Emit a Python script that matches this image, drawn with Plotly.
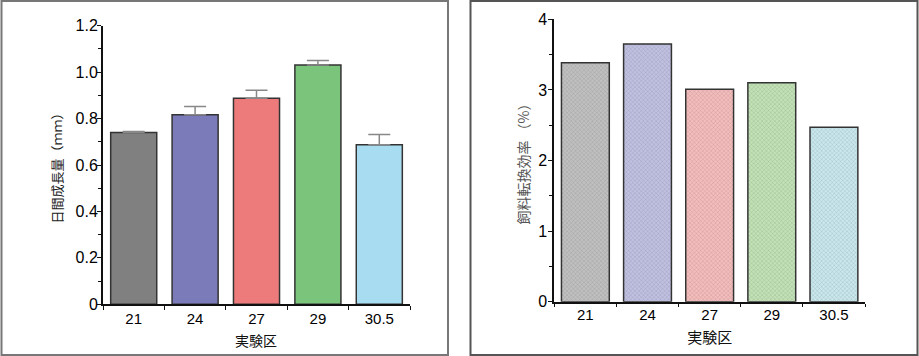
import plotly.graph_objects as go

categories = ["21", "24", "27", "29", "30.5"]
growth = [0.740, 0.816, 0.888, 1.031, 0.687]
growth_err = [0.004, 0.036, 0.034, 0.019, 0.044]
fcr = [3.385, 3.65, 3.01, 3.10, 2.47]

left_colors = ["#808080", "#7b7bba", "#ee7b7b", "#7bc47b", "#a8dcf0"]
right_colors = ["#c0c0c0", "#c0c0e2", "#f5bcbc", "#c2e2b6", "#c8e8ee"]
right_fg = ["#b0b0b0", "#b0b0d6", "#eaaaaa", "#b2d6a6", "#b6dce2"]

W, H = 919, 356
px = lambda x: x / W
py = lambda y: 1 - y / H

fig = go.Figure()
fig.add_trace(go.Bar(
    x=categories, y=growth, xaxis="x", yaxis="y", width=0.75,
    marker=dict(color=left_colors, line=dict(color="#333333", width=1.5)),
    error_y=dict(type="data", array=growth_err, arrayminus=[0]*5, symmetric=False,
                 color="#888888", thickness=1.5, width=11),
    showlegend=False))
fig.add_trace(go.Bar(
    x=categories, y=fcr, xaxis="x2", yaxis="y2", width=0.77,
    marker=dict(color=right_colors, line=dict(color="#333333", width=1.5),
                pattern=dict(shape="x", size=3, solidity=0.15, fgcolor=right_fg,
                             bgcolor=right_colors, fillmode="overlay")),
    showlegend=False))

tickfont_y = dict(family="Liberation Sans, Arial", size=16, color="#000000")
tickfont_x = dict(family="Liberation Sans, Arial", size=15, color="#000000")
cjk = "Noto Sans CJK JP"

fig.update_layout(
    width=W, height=H, margin=dict(l=0, r=0, t=0, b=0),
    paper_bgcolor="white", plot_bgcolor="white", bargap=0.25,
    xaxis=dict(domain=[px(103), px(410)], anchor="y", type="category", automargin=False,
               showline=True, linecolor="#111", linewidth=2,
               ticks="outside", tickson="boundaries", ticklen=4, tickcolor="#111",
               tickfont=tickfont_x, ticklabelstandoff=0, showgrid=False),
    yaxis=dict(domain=[py(304.3), py(25.7)], anchor="x", range=[0, 1.2], automargin=False,
               tickvals=[0, 0.2, 0.4, 0.6, 0.8, 1.0, 1.2],
               ticktext=["0", "0.2", "0.4", "0.6", "0.8", "1.0", "1.2"],
               showline=True, linecolor="#111", linewidth=2,
               ticks="outside", ticklen=4, tickcolor="#111", tickfont=tickfont_y,
               minor=dict(ticks="outside", dtick=0.1, ticklen=3, tickcolor="#111"),
               showgrid=False, zeroline=False, ticklabelstandoff=-4,
               title=dict(text="日間成長量（ｍｍ）", font=dict(family=cjk, size=13, color="#222"), standoff=10)),
    xaxis2=dict(domain=[px(554.3), px(865)], anchor="y2", type="category", automargin=False,
                showline=True, linecolor="#111", linewidth=2,
                ticks="outside", tickson="boundaries", ticklen=3, tickcolor="#111",
                tickfont=tickfont_x, ticklabelstandoff=-2, showgrid=False,
                title=dict(text="実験区", font=dict(family=cjk, size=15, color="#111"), standoff=11)),
    yaxis2=dict(domain=[py(301.7), py(19.3)], anchor="x2", range=[0, 4], automargin=False,
                tickvals=[0, 1, 2, 3, 4],
                showline=True, linecolor="#111", linewidth=2,
                ticks="outside", ticklen=4, tickcolor="#111", tickfont=tickfont_y,
                minor=dict(ticks="outside", dtick=0.5, ticklen=3, tickcolor="#111"),
                showgrid=False, zeroline=False, ticklabelstandoff=-2,
                title=dict(text="飼料転換効率 （%）", font=dict(family=cjk, size=14, color="#555"), standoff=5)),
    annotations=[
        dict(text="実験区", xref="paper", yref="paper", x=px(256), y=py(339.5),
             xanchor="center", yanchor="middle", showarrow=False,
             font=dict(family=cjk, size=14, color="#111")),
    ],
    shapes=[
        dict(type="rect", xref="paper", yref="paper", x0=px(1.5), x1=px(448), y0=py(355), y1=py(1),
             line=dict(color="#777777", width=2)),
        dict(type="rect", xref="paper", yref="paper", x0=px(470.5), x1=px(917.5), y0=py(355), y1=py(1),
             line=dict(color="#555555", width=2)),
    ],
)

fig.write_html("out.html")
